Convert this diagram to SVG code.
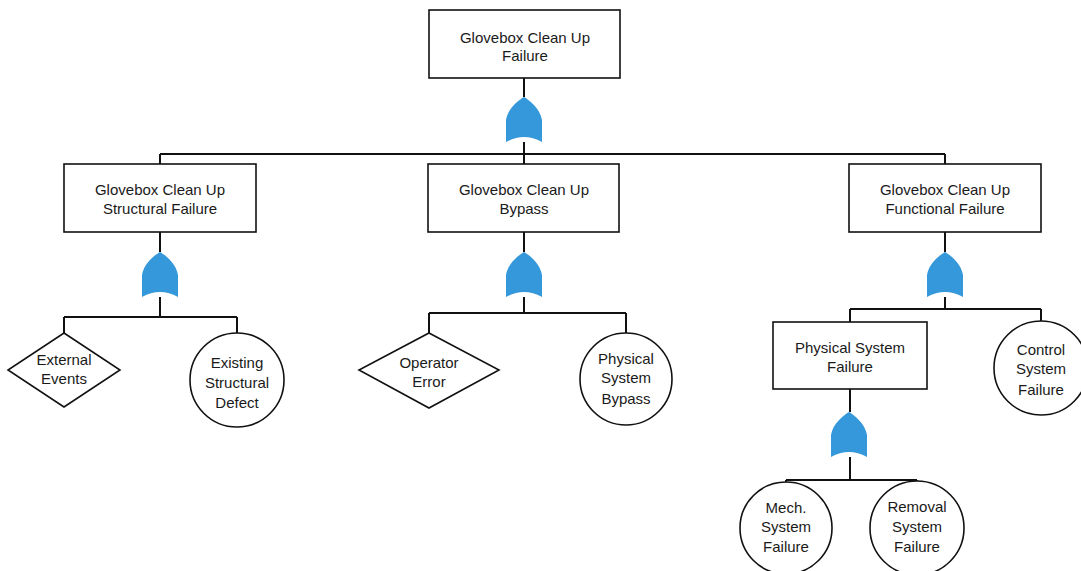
<svg xmlns="http://www.w3.org/2000/svg" width="1081" height="571" viewBox="0 0 1081 571">
  <style>
    .box { fill: #ffffff; stroke: #111111; stroke-width: 1.6; }
    .evt { fill: #ffffff; stroke: #111111; stroke-width: 1.6; }
    .wire { fill: none; stroke: #111111; stroke-width: 2; }
    .gate { fill: #3498db; }
    text { font-family: "Liberation Sans", Arial, sans-serif; font-size: 15px; fill: #1a1a1a; text-anchor: middle; }
  </style>
  <defs>
    <!-- OR gate symbol, anchored at its top point -->
    <path id="orGate" class="gate" d="M0,0 C5,3 16,11 18,23 L18,45 Q0,35 -18,45 L-18,23 C-16,11 -5,3 0,0 Z"/>
  </defs>
  <rect width="1081" height="571" fill="#ffffff"/>

  <g id="connectors">
    <!-- top event to first gate -->
    <path class="wire" d="M524,78 V97"/>
    <path class="wire" d="M524,142 V154 M160,154 H945 M160,154 V164 M524,154 V164 M945,154 V164"/>
    <!-- structural failure branch -->
    <path class="wire" d="M160,232 V252"/>
    <path class="wire" d="M160,297 V317 M64,317 H237 M64,317 V333 M237,317 V333"/>
    <!-- bypass branch -->
    <path class="wire" d="M524,232 V252"/>
    <path class="wire" d="M524,297 V313 M429,313 H626 M429,313 V333 M626,313 V333"/>
    <!-- functional failure branch -->
    <path class="wire" d="M945,232 V252"/>
    <path class="wire" d="M945,297 V309 M850,309 H1041 M850,309 V322 M1041,309 V321"/>
    <!-- physical system failure branch -->
    <path class="wire" d="M850,389 V412"/>
    <path class="wire" d="M850,457 V480 M786,480 H917 M786,480 V482 M917,480 V481"/>
  </g>

  <g id="gates">
    <use href="#orGate" x="524" y="97"/>
    <use href="#orGate" x="160" y="252"/>
    <use href="#orGate" x="524" y="252"/>
    <use href="#orGate" x="945" y="252"/>
    <use href="#orGate" x="849" y="412"/>
  </g>

  <g id="top-event">
    <rect class="box" x="429" y="10" width="191" height="68"/>
    <text x="525" y="43">Glovebox Clean Up</text>
    <text x="525" y="61">Failure</text>
  </g>

  <g id="structural-failure">
    <rect class="box" x="64" y="164" width="192" height="68"/>
    <text x="160" y="195">Glovebox Clean Up</text>
    <text x="160" y="214">Structural Failure</text>
  </g>

  <g id="bypass">
    <rect class="box" x="428" y="164" width="191" height="68"/>
    <text x="524" y="195">Glovebox Clean Up</text>
    <text x="524" y="214">Bypass</text>
  </g>

  <g id="functional-failure">
    <rect class="box" x="849" y="164" width="192" height="68"/>
    <text x="945" y="195">Glovebox Clean Up</text>
    <text x="945" y="214">Functional Failure</text>
  </g>

  <g id="external-events">
    <polygon class="evt" points="64,333 120,370 64,407 8,370"/>
    <text x="64" y="365">External</text>
    <text x="64" y="384">Events</text>
  </g>

  <g id="existing-defect">
    <circle class="evt" cx="237" cy="380" r="47"/>
    <text x="237" y="368">Existing</text>
    <text x="237" y="388">Structural</text>
    <text x="237" y="408">Defect</text>
  </g>

  <g id="operator-error">
    <polygon class="evt" points="429,333 499,370 429,408 359,370"/>
    <text x="429" y="368">Operator</text>
    <text x="429" y="387">Error</text>
  </g>

  <g id="physical-bypass">
    <circle class="evt" cx="626" cy="379" r="46"/>
    <text x="626" y="364">Physical</text>
    <text x="626" y="383">System</text>
    <text x="626" y="404">Bypass</text>
  </g>

  <g id="physical-system-failure">
    <rect class="box" x="773" y="322" width="154" height="67"/>
    <text x="850" y="353">Physical System</text>
    <text x="850" y="372">Failure</text>
  </g>

  <g id="control-system-failure">
    <circle class="evt" cx="1041" cy="368" r="47"/>
    <text x="1041" y="355">Control</text>
    <text x="1041" y="374">System</text>
    <text x="1041" y="395">Failure</text>
  </g>

  <g id="mech-system-failure">
    <circle class="evt" cx="786" cy="528" r="46"/>
    <text x="786" y="513">Mech.</text>
    <text x="786" y="532">System</text>
    <text x="786" y="552">Failure</text>
  </g>

  <g id="removal-system-failure">
    <circle class="evt" cx="917" cy="528" r="47"/>
    <text x="917" y="512">Removal</text>
    <text x="917" y="532">System</text>
    <text x="917" y="552">Failure</text>
  </g>
</svg>
